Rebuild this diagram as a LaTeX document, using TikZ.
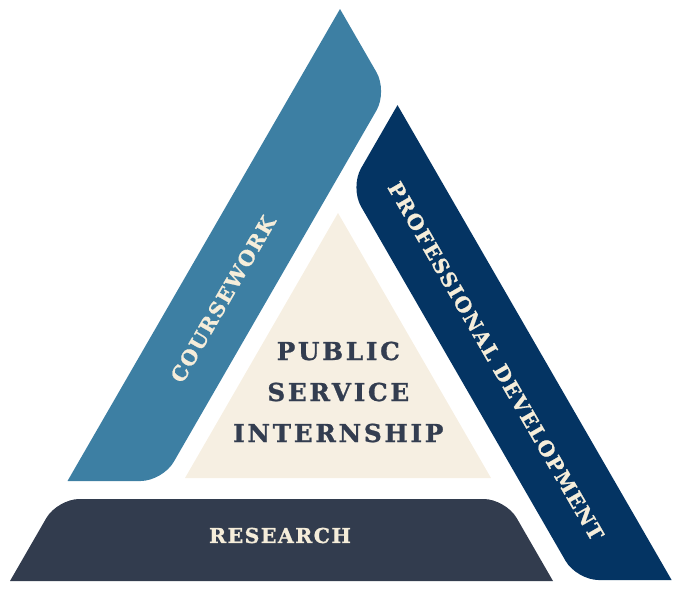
\documentclass[tikz,border=0pt]{standalone}
\usepackage{fontspec}
\setmainfont{DejaVu Serif}
\newfontfamily\bandfont[LetterSpace=7,BoldFeatures={FakeBold=1}]{DejaVu Serif}
\newfontfamily\corefont[LetterSpace=11,BoldFeatures={FakeBold=1}]{DejaVu Serif}
\definecolor{cwblue}{HTML}{3D7FA3}
\definecolor{pdnavy}{HTML}{043463}
\definecolor{rsslate}{HTML}{323C4E}
\definecolor{creamfill}{HTML}{F6EFE2}
\definecolor{inktext}{HTML}{333D50}
\definecolor{lighttext}{HTML}{F5EDDA}
\begin{document}
\begin{tikzpicture}[x=1pt,y=-1pt,
  bandlabel/.style={text=lighttext,inner sep=0pt,font=\bandfont\bfseries\fontsize{20.5}{24}\selectfont},
  corelabel/.style={text=inktext,inner sep=0pt,align=center,font=\corefont\bfseries\fontsize{24.7}{41}\selectfont}]
\useasboundingbox (0,0) rectangle (676,592);
% left band (coursework)
\fill[cwblue,rounded corners=22pt] (340,9) -- (387.5,91.3) -- (162.7,481) -- (67.5,481);
% right band (professional development)
\fill[pdnavy,rounded corners=22pt] (397.5,105.1) -- (350,187.4) -- (576.6,580) -- (671.6,580);
% bottom band (research)
\fill[rsslate,rounded corners=22pt] (10,581) -- (57.3,499) -- (505.7,499) -- (553,581);
% core triangle
\fill[creamfill] (338,213) -- (491,478) -- (185,478) -- cycle;
% labels
\node[bandlabel,rotate=60] (cw) at (223,299) {COURSEWORK};
\node[bandlabel,rotate=-60] (pd) at (496,361) {PROFESSIONAL DEVELOPMENT};
\node[bandlabel] (rs) at (280,535.5) {RESEARCH};
\node[corelabel] (psi) at (338.3,392) {PUBLIC\\SERVICE\\INTERNSHIP};
\end{tikzpicture}
\end{document}
